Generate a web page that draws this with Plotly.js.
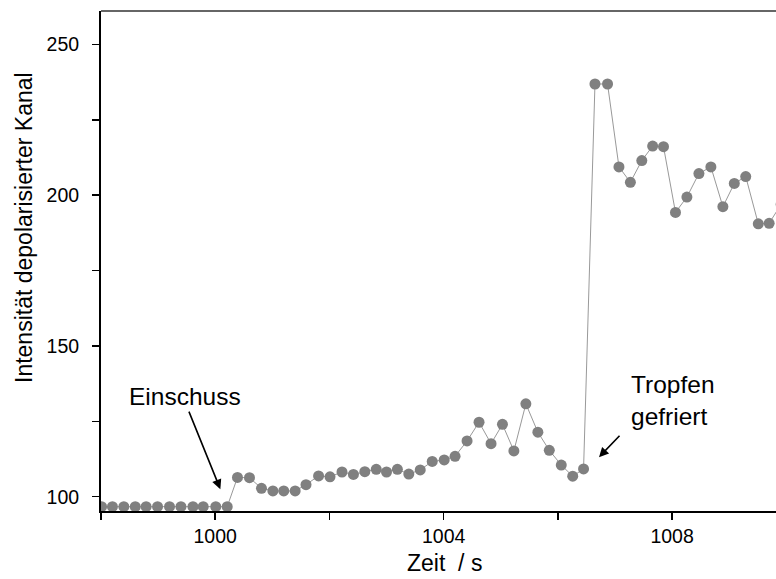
<!DOCTYPE html>
<html>
<head>
<meta charset="utf-8">
<script src="https://cdn.plot.ly/plotly-3.0.1.min.js"></script>
<style>html,body{margin:0;padding:0;background:#fff;}#chart{width:776px;height:579px;}</style>
</head>
<body>
<div id="chart"></div>
<script>
const zeit = [998.01, 998.20, 998.40, 998.60, 998.79, 998.99, 999.20, 999.40, 999.61, 999.79,
  1000.01, 1000.21, 1000.39, 1000.60, 1000.81, 1001.01, 1001.20, 1001.40, 1001.59, 1001.81,
  1002.01, 1002.22, 1002.42, 1002.62, 1002.82, 1003.00, 1003.19, 1003.39, 1003.59, 1003.80,
  1004.01, 1004.20, 1004.41, 1004.62, 1004.83, 1005.03, 1005.23, 1005.44, 1005.65, 1005.85,
  1006.06, 1006.26, 1006.45, 1006.65, 1006.87, 1007.07, 1007.27, 1007.47, 1007.66, 1007.85,
  1008.06, 1008.26, 1008.47, 1008.68, 1008.89, 1009.09, 1009.29, 1009.51, 1009.70, 1009.91];
const intensitaet = [96.7, 96.7, 96.7, 96.7, 96.7, 96.7, 96.7, 96.7, 96.7, 96.7,
  96.7, 96.7, 106.4, 106.3, 102.8, 101.9, 101.9, 101.9, 104.0, 106.9,
  106.6, 108.2, 107.4, 108.3, 109.1, 108.2, 109.1, 107.5, 108.9, 111.7,
  112.2, 113.4, 118.5, 124.7, 117.6, 124.0, 115.2, 130.8, 121.4, 115.4,
  110.5, 106.8, 109.2, 236.9, 236.9, 209.4, 204.3, 211.5, 216.3, 216.1,
  194.3, 199.4, 207.2, 209.4, 196.2, 203.9, 206.2, 190.5, 190.7, 197.0];

const xTickVals = [1000, 1004, 1008];
const yTickVals = [100, 150, 200, 250];
const xTitle = "Zeit\u00a0\u00a0/ s";
const yTitle = "Intensität depolarisierter Kanal";
const noteShot = "Einschuss";
const noteFreeze = "Tropfen<br>gefriert";

const FONT = "Liberation Sans, Arial, Helvetica, sans-serif";

const trace = {
  x: zeit, y: intensitaet, type: "scatter", mode: "lines+markers",
  line: {color: "#999999", width: 1},
  marker: {color: "#808080", size: 11},
  cliponaxis: true, hoverinfo: "skip"
};

const layout = {
  width: 776, height: 579,
  margin: {l: 101, r: 0, t: 11, b: 68, pad: 0},
  paper_bgcolor: "#ffffff", plot_bgcolor: "#ffffff",
  showlegend: false,
  font: {family: FONT, color: "#000000", size: 19},
  xaxis: {
    range: [998, 1009.82], showgrid: false, zeroline: false,
    showline: true, linecolor: "#000000", linewidth: 2,
    ticks: "outside", ticklen: 7, tickwidth: 1.5, tickcolor: "#000000",
    tickmode: "array", tickvals: xTickVals, ticktext: xTickVals.map(String),
    tickfont: {family: FONT, size: 19.5, color: "#000"},
    ticklabelstandoff: 0,
    minor: {ticks: "outside", ticklen: 7, tickwidth: 1.5, tickcolor: "#000000", tick0: 998, dtick: 2, showgrid: false}
  },
  yaxis: {
    range: [95.26, 261.11], showgrid: false, zeroline: false,
    showline: true, linecolor: "#000000", linewidth: 2,
    ticks: "outside", ticklen: 7, tickwidth: 1.5, tickcolor: "#000000",
    tickmode: "array", tickvals: yTickVals, ticktext: yTickVals.map(String),
    tickfont: {family: FONT, size: 19.5, color: "#000"},
    ticklabelstandoff: 9,
    minor: {ticks: "outside", ticklen: 7, tickwidth: 1.5, tickcolor: "#000000", tick0: 100, dtick: 25, showgrid: false}
  },
  shapes: [
    {type: "line", xref: "paper", yref: "paper", x0: 0, x1: 1, y0: 1, y1: 1,
     line: {color: "#333333", width: 1.5}}
  ],
  annotations: [
    {xref: "paper", yref: "paper", x: (444 - 101) / 675, y: (579 - 68 - 563) / 500,
     text: xTitle, showarrow: false, font: {family: FONT, size: 23}, xanchor: "center", yanchor: "middle"},
    {xref: "paper", yref: "paper", x: (24 - 101) / 675, y: (579 - 68 - 228) / 500,
     text: yTitle, showarrow: false, textangle: -90, font: {family: FONT, size: 23}, xanchor: "center", yanchor: "middle"},
    {xref: "x", yref: "y", x: 999.47, y: 133.1, text: noteShot, showarrow: false,
     font: {family: FONT, size: 24.5}, xanchor: "center", yanchor: "middle"},
    {xref: "x", yref: "y", x: 1000.09, y: 102.5, text: "", showarrow: true,
     ax: -32, ay: -79, arrowhead: 2, arrowsize: 1.2, arrowwidth: 1.6, arrowcolor: "#000"},
    {xref: "x", yref: "y", x: 1007.25, y: 131.9, text: noteFreeze, showarrow: false,
     font: {family: FONT, size: 24.5}, xanchor: "left", yanchor: "middle", align: "left"},
    {xref: "x", yref: "y", x: 1006.72, y: 113.1, text: "", showarrow: true,
     ax: 22, ay: -23, arrowhead: 2, arrowsize: 1.2, arrowwidth: 1.6, arrowcolor: "#000"}
  ]
};

Plotly.newPlot("chart", [trace], layout, {staticPlot: true, displayModeBar: false});
</script>
</body>
</html>
